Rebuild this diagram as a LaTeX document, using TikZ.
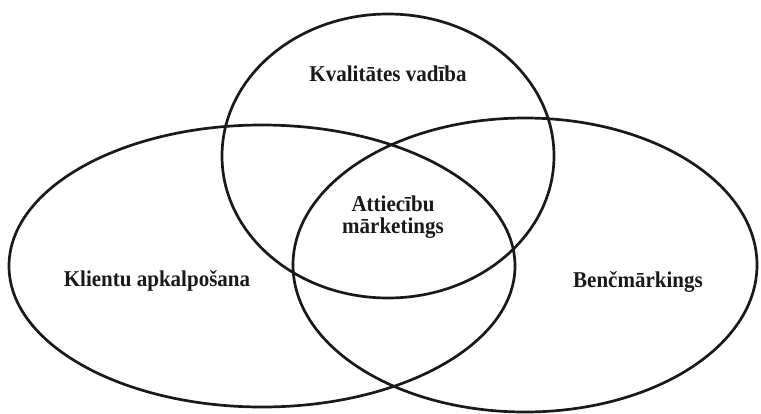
\documentclass[tikz,border=0pt]{standalone}
\usepackage{fontspec}
\setmainfont{Liberation Serif}[FakeStretch=0.93]
\begin{document}
\begin{tikzpicture}[x=1pt,y=-1pt,
  ring/.style={draw=black!90,line width=2.7pt},
  lbl/.style={font=\fontsize{22.6}{22}\selectfont\bfseries,text=black!90,align=center,inner sep=0pt}]
\useasboundingbox (0,0) rectangle (761,413);
% the three overlapping fields
\draw[ring] (388,156) ellipse [x radius=166, y radius=142];
\draw[ring] (262,266) ellipse [x radius=253, y radius=141];
\draw[ring] (525,265) ellipse [x radius=232, y radius=147];
% labels
\node[lbl] (qm) at (388,74) {Kvalitātes vadība};
\node[lbl] (rm) at (393,217) {Attiecību\\mārketings};
\node[lbl] (cs) at (157,281) {Klientu apkalpošana};
\node[lbl] (bm) at (638,282) {Benčmārkings};
\end{tikzpicture}
\end{document}
